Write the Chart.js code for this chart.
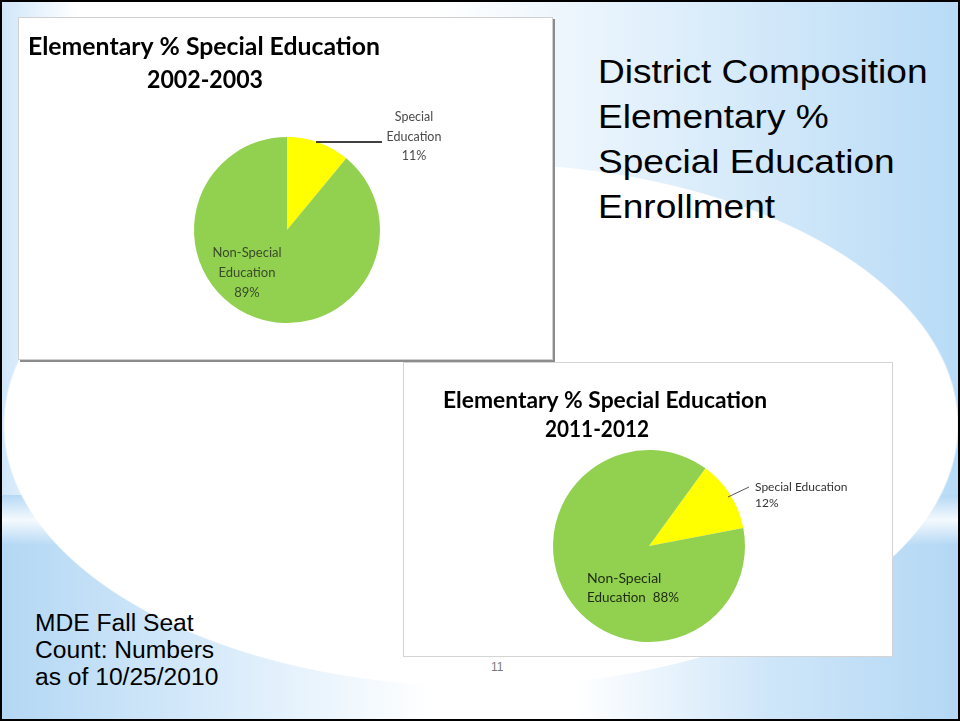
<!DOCTYPE html>
<html>
<head>
<meta charset="utf-8">
<script src="https://cdn.jsdelivr.net/npm/chart.js@4.4.0/dist/chart.umd.min.js"></script>
<style>
    html, body { margin: 0; padding: 0; }
    body { width: 960px; height: 721px; overflow: hidden; font-family: "Liberation Sans", Arial, sans-serif; }
    #slide {
        position: relative; width: 960px; height: 721px; overflow: hidden;
        background:
            radial-gradient(ellipse 478px 262px at 481px 425px, #ffffff 99.6%, rgba(255,255,255,0) 100%) 0 0 / 960px 721px no-repeat,
            linear-gradient(to bottom, rgba(255,255,255,0) 0, rgba(255,255,255,0.85) 25px, rgba(255,255,255,0) 50px) 0 495px / 960px 50px no-repeat,
            linear-gradient(to right, #b3d7f4 0%, #dcedfb 25%, #ffffff 45%, #ffffff 60%, #cfe6f9 80%, #b3d7f4 100%) 0 495px / 960px 226px no-repeat,
            linear-gradient(to right, #cfe6f9 0%, #ffffff 8%, #ffffff 45%, #b8dbf6 100%) 0 0 / 960px 495px no-repeat;
    }
    #frame { position: absolute; left: 0; top: 0; width: 960px; height: 721px; box-sizing: border-box; border: 2px solid #000; z-index: 9; }
    .box { position: absolute; background: #fff; box-sizing: border-box; }
    #box1 { left: 18px; top: 17px; width: 535px; height: 343px; border: 1px solid #d0d0d0; box-shadow: 2px 2px 0 #8c8c8c; }
    #box2 { left: 403px; top: 362px; width: 490px; height: 295px; border: 1px solid #d4d4d4; }
    .wrap { position: absolute; }
    #w1 { left: 18px; top: 17px; width: 535px; height: 343px; }
    #w2 { left: 403px; top: 362px; width: 490px; height: 295px; }
    #heading { position: absolute; left: 598px; top: 49px; font-size: 34px; line-height: 45px; color: #000; white-space: nowrap; transform: scaleX(1.09); transform-origin: 0 0; }
    #source { position: absolute; left: 35px; top: 610px; font-size: 23px; line-height: 27px; color: #000; white-space: nowrap; transform: scaleX(1.07); transform-origin: 0 0; }
    #pageno { position: absolute; left: 491px; top: 660px; font-size: 12px; color: #7a7a7a; }
</style>
</head>
<body>
<div id="slide">
    <div class="box" id="box1"></div>
    <div class="box" id="box2"></div>
    <div class="wrap" id="w1"><canvas id="pie1"></canvas></div>
    <div class="wrap" id="w2"><canvas id="pie2"></canvas></div>
    <div id="heading">District Composition<br>Elementary %<br>Special Education<br>Enrollment</div>
    <div id="source">MDE Fall Seat<br>Count: Numbers<br>as of 10/25/2010</div>
    <div id="pageno">11</div>
    <div id="frame"></div>
</div>
<script>
    var categories = ['Special Education', 'Non-Special Education'];
    var years = ['2002-2003', '2011-2012'];
    var values2002 = [11, 89];
    var values2011 = [12, 88];
    var sliceColors = ['#ffff00', '#92d050'];
    var chartTitle = 'Elementary % Special Education';

    // draws the chart titles and the slice labels (no datalabels plugin available)
    var slideText = {
        id: 'slideText',
        afterDraw: function (chart, args, opts) {
            var ctx = chart.ctx;
            var arc = chart.getDatasetMeta(0).data[0];
            var cx = arc.x, cy = arc.y;
            ctx.save();
            ctx.textBaseline = 'alphabetic';
            ctx.textAlign = 'center';
            ctx.fillStyle = '#000';
            ctx.font = 'bold ' + opts.titleSize + 'px Lato, "Open Sans", sans-serif';
            opts.titles.forEach(function (t) {
                ctx.fillText(t.text, t.x, t.y, t.maxWidth);
            });

            ctx.textBaseline = 'middle';
            opts.labels.forEach(function (lab) {
                ctx.font = lab.size + 'px Lato, "Open Sans", sans-serif';
                ctx.fillStyle = lab.color;
                ctx.textAlign = lab.align;
                lab.lines.forEach(function (line, i) {
                    ctx.fillText(line, cx + lab.dx, cy + lab.dy[i], lab.maxWidth);
                });
                if (lab.leader) {
                    ctx.strokeStyle = lab.leaderColor;
                    ctx.lineWidth = lab.leaderWidth;
                    ctx.beginPath();
                    ctx.moveTo(cx + lab.leader[0], cy + lab.leader[1]);
                    ctx.lineTo(cx + lab.leader[2], cy + lab.leader[3]);
                    ctx.stroke();
                }
            });
            ctx.restore();
        }
    };

    function pieChart(id, values, rotation, padding, textOpts) {
        return new Chart(document.getElementById(id), {
            type: 'pie',
            data: {
                labels: categories,
                datasets: [{
                    data: values,
                    backgroundColor: sliceColors,
                    borderWidth: 0
                }]
            },
            options: {
                responsive: true,
                maintainAspectRatio: false,
                animation: false,
                rotation: rotation,
                layout: { padding: padding },
                plugins: {
                    legend: { display: false },
                    tooltip: { enabled: false },
                    slideText: textOpts
                }
            },
            plugins: [slideText]
        });
    }

    pieChart('pie1', values2002, 0, { left: 176, right: 173, top: 120, bottom: 37 }, {
        titleSize: 25,
        titles: [
            { text: chartTitle, x: 186, y: 38, maxWidth: 352 },
            { text: years[0], x: 187, y: 71, maxWidth: 116 }
        ],
        labels: [
            {
                lines: ['Special', 'Education', values2002[0] + '%'],
                dx: 127, dy: [-113, -93, -74], align: 'center', size: 12.5, color: '#4a4a4a', maxWidth: 64,
                leader: [29, -88, 95, -88], leaderColor: '#000', leaderWidth: 1.5
            },
            {
                lines: ['Non-Special', 'Education', values2002[1] + '%'],
                dx: -40, dy: [23, 43, 63], align: 'center', size: 13, color: '#3a4a2a', maxWidth: 72
            }
        ]
    });

    pieChart('pie2', values2011, 36, { left: 150, right: 148, top: 88, bottom: 15 }, {
        titleSize: 23,
        titles: [
            { text: chartTitle, x: 202, y: 46, maxWidth: 324 },
            { text: years[1], x: 194, y: 75, maxWidth: 104 }
        ],
        labels: [
            {
                lines: ['Special Education', values2011[0] + '%'],
                dx: 106, dy: [-59, -43], align: 'left', size: 12, color: '#333', maxWidth: 100,
                leader: [79, -49, 100, -59], leaderColor: '#555', leaderWidth: 1
            },
            {
                lines: ['Non-Special', 'Education  ' + values2011[1] + '%'],
                dx: -62, dy: [32, 51], align: 'left', size: 14, color: '#1e2a12', maxWidth: 92
            }
        ]
    });
</script>
</body>
</html>
